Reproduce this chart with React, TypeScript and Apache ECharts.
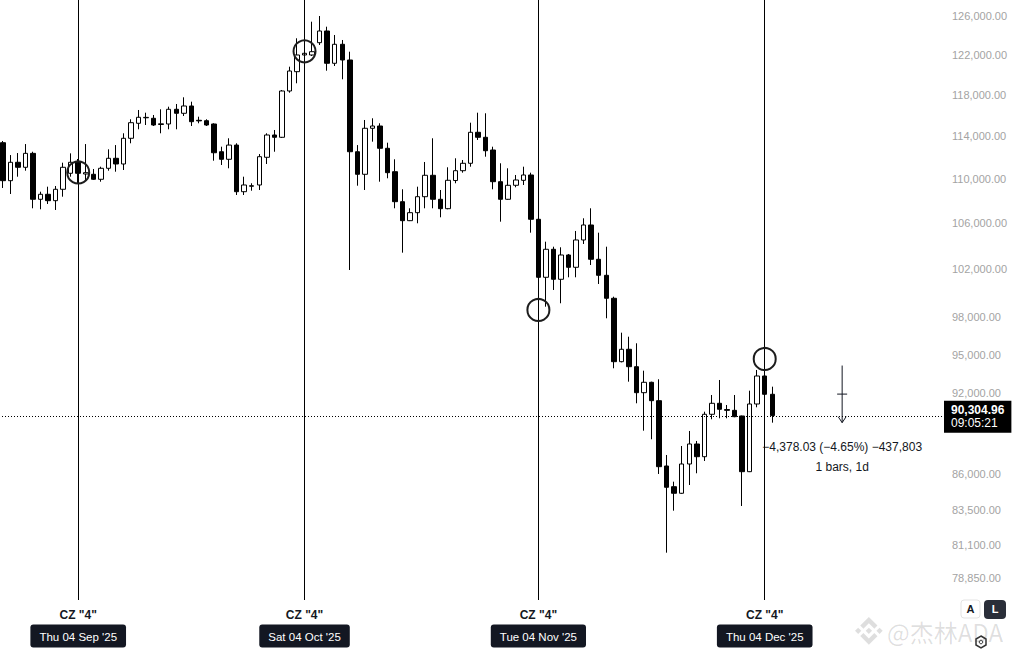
import React, { useEffect, useRef } from "react";
import * as echarts from "echarts";

// ---- data (BTC daily candles) ----
const startDate = "2025-08-25";
const dayCount = 125; // visible days incl. empty future space

const opens = [
  113372, 109837, 111534, 111070, 112369, 108147, 108598, 108021, 109052, 110516,
  111590, 110452, 110424, 109965, 110978, 111907, 111376, 113788, 115220, 115750,
  115701, 115103, 115153, 116573, 116185, 116893, 115509, 115470, 115153, 112521,
  111814, 113147, 108834, 109325, 109444, 112000, 114101, 113883, 118365, 120285,
  121970, 121970, 123228, 124436, 121129, 123063, 121463, 112521, 110424, 114741,
  114960, 112844, 110664, 107931, 106235, 106946, 108381, 110332, 108147, 107303,
  109850, 110756, 111441, 114359, 113883, 112682, 109745, 108147, 109416, 109870,
  110359, 106359, 101339, 103732, 101170, 103240, 102187, 104540, 105855, 102871,
  101507, 99581, 94454, 95436, 94061, 92045, 92846, 91433, 86588, 85107,
  84641, 86733, 88191, 87262, 90402, 91235, 90760, 90700, 90274, 86179,
  91181, 93334, 91922,
];
const highs = [
  113533, 112209, 112398, 113243, 112521, 108834, 109288, 109352, 111497, 112369,
  111842, 113243, 110913, 111125, 112748, 113147, 114264, 115605, 116505, 116243,
  116020, 116573, 116825, 117089, 117744, 117314, 115856, 115605, 115220, 112994,
  113788, 113315, 110203, 109600, 112304, 114264, 114578, 118463, 120786, 123680,
  122378, 125404, 126000, 124881, 124021, 123505, 122306, 113147, 115538, 115701,
  115220, 113372, 111814, 109052, 107339, 109288, 111562, 113788, 108988, 111070,
  111907, 111749, 115278, 116243, 116185, 112994, 111441, 110978, 110359, 111125,
  110572, 106740, 104392, 103957, 103905, 103326, 105327, 106447, 107339, 105178,
  103957, 99713, 96766, 96443, 95914, 93748, 92893, 93079, 87386, 85464,
  88044, 89153, 88413, 90598, 91868, 93024, 91105, 91868, 90300, 92199,
  93803, 93882, 92506,
];
const lows = [
  109170, 108626, 110203, 110756, 107339, 107249, 107724, 107187, 108381, 110203,
  109627, 109901, 109901, 109745, 110756, 110664, 110821, 113315, 114645, 115056,
  114960, 114264, 114645, 114645, 115923, 114960, 115220, 114960, 111683, 111283,
  110978, 108535, 108535, 108925, 108988, 111376, 112521, 113817, 118197, 119127,
  121767, 121868, 122990, 120385, 120856, 119525, 101957, 109379, 108988, 113467,
  109745, 110057, 107339, 103439, 106200, 106005, 107339, 107339, 106536, 107250,
  109600, 110572, 111125, 113628, 112056, 109052, 106147, 108100, 109234, 109444,
  105178, 98950, 98885, 100272, 99167, 101339, 101339, 104191, 102382, 100774,
  97934, 93936, 94400, 92893, 91235, 89175, 88538, 86014, 80552, 83422,
  84600, 85228, 86064, 86951, 90027, 90102, 90102, 90180, 83749, 86150,
  90931, 91715, 89773,
];
const closes = [
  109837, 111534, 111070, 112369, 108147, 108598, 108021, 109052, 111070, 111534,
  110516, 110572, 109965, 110978, 111907, 111376, 113788, 115278, 115798, 115790,
  115056, 115172, 116573, 116185, 116893, 115374, 115451, 115056, 112426, 111814,
  113147, 108834, 109444, 109380, 112056, 114101, 113883, 118365, 120355, 121970,
  122143, 122306, 124436, 121129, 123063, 121463, 112521, 110424, 114741, 114960,
  112844, 110572, 107931, 106235, 106946, 108381, 110332, 108147, 107303, 109874,
  110756, 111441, 114359, 113883, 112615, 109745, 108147, 109416, 109901, 110359,
  106359, 101339, 103732, 101170, 103240, 102187, 104540, 105855, 102871, 101507,
  99581, 94454, 95436, 94061, 92045, 92846, 91433, 86538, 85065, 84641,
  86733, 88191, 87262, 90402, 91235, 90780, 90700, 90222, 86179, 91181,
  93334, 91922, 90304.96,
];

const yTicks = [126000, 122000, 118000, 114000, 110000, 106000, 102000, 98000, 95000, 92000, 86000, 83500, 81100, 78850];
const yMin = 77436;
const yMax = 127692;

const markDates = ["2025-09-04", "2025-10-04", "2025-11-04", "2025-12-04"];
const markDateLabels = ["Thu 04 Sep '25", "Sat 04 Oct '25", "Tue 04 Nov '25", "Thu 04 Dec '25"];
const markTitle = 'CZ "4"';
const circlePrices = [110590, 122347, 98614, 94667];

const lastPrice = 90304.96;
const countdown = "09:05:21";

const measureDate = "2025-12-14";
const measureFrom = 94151;
const measureTo = 89773;
const measureText = "\u22124,378.03 (\u22124.65%) \u2212437,803";
const measureSub = "1 bars, 1d";

const watermark = "@杰林ADA";

const FONT = "'Liberation Sans', Arial, sans-serif";
const BNB_PATH =
  "M38.2 53.3L63 28.5l24.8 24.8 14.4-14.4L63 0 23.8 39.2zM0 63l14.4-14.4L28.8 63 14.4 77.4zM38.2 72.7L63 97.5l24.8-24.8 14.4 14.4L63 126 23.8 86.8zM97.2 63l14.4-14.4L126 63l-14.4 14.4zM77.6 63L63 48.4 48.4 63 63 77.6z";

let shapeRegistered = false;
function registerShapes() {
  if (shapeRegistered) return;
  shapeRegistered = true;
  echarts.graphic.registerShape("bnbLogo", echarts.graphic.extendPath(BNB_PATH, {}));
}

const L = Math.log;
const fmt = (v: number) =>
  v.toLocaleString("en-US", { minimumFractionDigits: 2, maximumFractionDigits: 2 });

function buildDates(): string[] {
  const out: string[] = [];
  const [y, m, d] = startDate.split("-").map(Number);
  const t0 = Date.UTC(y, m - 1, d);
  for (let i = 0; i < dayCount; i++) {
    out.push(new Date(t0 + i * 86400000).toISOString().slice(0, 10));
  }
  return out;
}

export default function App() {
  const ref = useRef<HTMLDivElement>(null);

  useEffect(() => {
    if (!ref.current) return;
    registerShapes();
    const chart = echarts.init(ref.current, null, { renderer: "svg" });
    const dates = buildDates();
    const candles = opens.map((o, i) => [L(o), L(closes[i]), L(lows[i]), L(highs[i])]);

    chart.setOption({
      animation: false,
      backgroundColor: "#ffffff",
      grid: { left: -1, top: 0, width: 943, height: 600, containLabel: false, outerBoundsMode: "none" },
      xAxis: {
        type: "category",
        data: dates,
        boundaryGap: true,
        axisLine: { show: false },
        axisTick: { show: false },
        splitLine: { show: false },
        axisLabel: {
          interval: (_i: number, v: string) => markDates.includes(v),
          hideOverlap: false,
          margin: 8,
          verticalAlign: "top",
          formatter: (v: string) => {
            const k = markDates.indexOf(v);
            if (k < 0) return "";
            return `{cz|${markTitle}}\n{gap| }\n{d|${markDateLabels[k]}}`;
          },
          rich: {
            cz: { fontSize: 12, fontWeight: "bold", color: "#131722", lineHeight: 14, fontFamily: FONT, align: "center" },
            gap: { fontSize: 8, lineHeight: 8 },
            d: {
              fontSize: 11.5,
              color: "#ffffff",
              backgroundColor: "#131722",
              borderRadius: 3,
              padding: [6, 9, 5, 9],
              height: 12,
              lineHeight: 12,
              fontFamily: FONT,
              align: "center",
            },
          },
        },
      },
      yAxis: {
        type: "value",
        position: "right",
        scale: true,
        min: L(yMin),
        max: L(yMax),
        axisLine: { show: false },
        axisTick: { show: false },
        splitLine: { show: false },
        axisLabel: {
          customValues: yTicks.map(L),
          formatter: (v: number) => fmt(Math.round(Math.exp(v))),
          color: "#a3a3a3",
          fontSize: 11,
          fontFamily: FONT,
          margin: 10,
        },
      },
      series: [
        {
          type: "candlestick",
          data: candles,
          barWidth: 5,
          clip: false,
          itemStyle: {
            color: "#ffffff",
            color0: "#000000",
            borderColor: "#000000",
            borderColor0: "#000000",
            borderWidth: 1,
          },
          markLine: {
            silent: true,
            symbol: ["none", "none"],
            animation: false,
            data: [
              ...markDates.map((d) => ({
                xAxis: d,
                lineStyle: { color: "#000000", width: 1, type: "solid" },
                label: { show: false },
              })),
              {
                yAxis: L(lastPrice),
                lineStyle: { color: "#000000", width: 1, type: [1, 2] },
                label: {
                  show: true,
                  position: "end",
                  distance: 2,
                  formatter: `{p|${fmt(lastPrice)}}\n{t|${countdown}}`,
                  backgroundColor: "#000000",
                  padding: [3, 7, 3, 7],
                  rich: {
                    p: { color: "#ffffff", fontWeight: "bold", fontSize: 12, lineHeight: 13, fontFamily: FONT },
                    t: { color: "#ffffff", fontSize: 12, lineHeight: 13, fontFamily: FONT },
                  },
                },
              },
            ],
          },
          markPoint: {
            silent: true,
            symbol: "circle",
            symbolSize: 22,
            label: { show: false },
            itemStyle: { color: "rgba(0,0,0,0)", borderColor: "#1c1c1c", borderWidth: 2 },
            data: markDates.map((d, i) => ({ coord: [d, L(circlePrices[i])] })),
          },
        },
      ],
    });

    const p1 = chart.convertToPixel({ gridIndex: 0 }, [measureDate, L(measureFrom)]) as number[];
    const p2 = chart.convertToPixel({ gridIndex: 0 }, [measureDate, L(measureTo)]) as number[];
    const mx = p1[0] + 2;
    const yTop = p1[1];
    const yTip = p2[1];
    const yMid = (yTop + yTip) / 2;
    const ink = "#131722";

    chart.setOption({
      graphic: [
        { type: "line", shape: { x1: mx, y1: yTop, x2: mx, y2: yTip }, style: { stroke: ink, lineWidth: 1 } },
        { type: "polyline", shape: { points: [[mx - 4, yTip - 6], [mx, yTip], [mx + 4, yTip - 6]] }, style: { stroke: ink, lineWidth: 1, fill: "none" } },
        { type: "line", shape: { x1: mx - 5, y1: yMid, x2: mx + 5, y2: yMid }, style: { stroke: ink, lineWidth: 1 } },
        { type: "text", x: mx, y: yTip + 24, style: { text: measureText, fill: ink, font: `12px ${FONT}`, align: "center", verticalAlign: "middle" } },
        { type: "text", x: mx, y: yTip + 44, style: { text: measureSub, fill: ink, font: `12px ${FONT}`, align: "center", verticalAlign: "middle" } },
        // watermark
        { type: "bnbLogo", x: 855, y: 617, scaleX: 0.22, scaleY: 0.22, style: { fill: "rgba(0,0,0,0.13)" } },
        { type: "text", x: 887, y: 631, style: { text: watermark, fill: "rgba(0,0,0,0.13)", font: `24px 'Noto Sans CJK SC', ${FONT}`, verticalAlign: "middle" } },
        // A / L buttons
        { type: "rect", shape: { x: 961, y: 600, width: 19, height: 18, r: 3 }, style: { fill: "#ffffff", stroke: "#e3e3e3", lineWidth: 1 } },
        { type: "text", x: 970.5, y: 609, style: { text: "A", fill: "#131722", font: `bold 11px ${FONT}`, align: "center", verticalAlign: "middle" } },
        { type: "rect", shape: { x: 984, y: 600, width: 22, height: 19, r: 4 }, style: { fill: "#2a2e39" } },
        { type: "text", x: 995, y: 609, style: { text: "L", fill: "#ffffff", font: `bold 11px ${FONT}`, align: "center", verticalAlign: "middle" } },
        { type: "polygon", shape: { points: [[981, 636], [986, 639], [986, 645], [981, 648], [976, 645], [976, 639]] }, style: { fill: "none", stroke: "#333", lineWidth: 1.5 } },
        { type: "circle", shape: { cx: 981, cy: 642, r: 1.8 }, style: { fill: "none", stroke: "#333", lineWidth: 1 } },
      ],
    });

    return () => chart.dispose();
  }, []);

  return (
    <div
      ref={ref}
      style={{ position: "fixed", left: 0, top: 0, width: 1014, height: 654, background: "#ffffff" }}
    />
  );
}
